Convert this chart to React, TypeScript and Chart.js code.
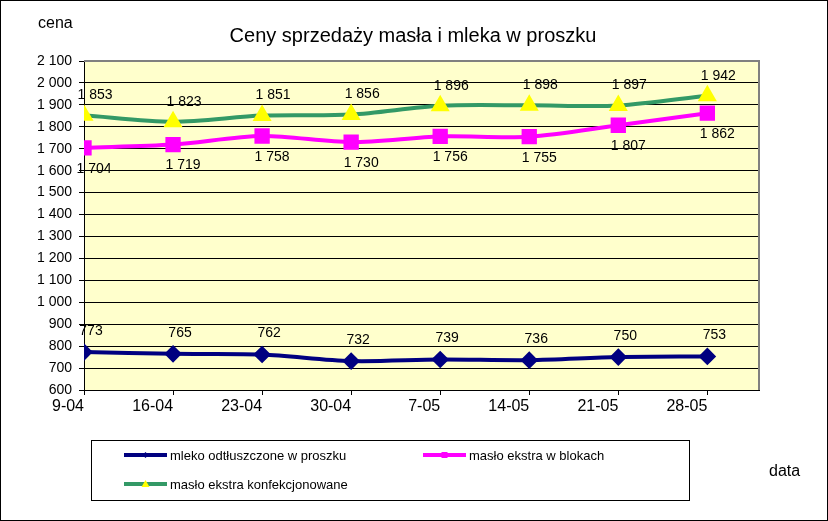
import React, { useEffect, useRef } from "react";
import { Chart, registerables } from "chart.js";

Chart.register(...registerables);

const categories = ["9-04", "16-04", "23-04", "30-04", "7-05", "14-05", "21-05", "28-05"];
const mlekoOdtluszczone = [773, 765, 762, 732, 739, 736, 750, 753];
const masloBloki = [1704, 1719, 1758, 1730, 1756, 1755, 1807, 1862];
const masloKonfekcjonowane = [1853, 1823, 1851, 1856, 1896, 1898, 1897, 1942];
const seriesNames = [
  "mleko odtłuszczone w proszku",
  "masło ekstra w blokach",
  "masło ekstra konfekcjonowane",
];
const titleText = "Ceny sprzedaży masła i mleka w proszku";
const yAxisTitle = "cena";
const xAxisTitle = "data";

const FONT = "'Liberation Sans', Arial, sans-serif";

const fmt = (v: number) => {
  if (v >= 1000) {
    const t = Math.floor(v / 1000);
    const r = String(Math.round(v % 1000)).padStart(3, "0");
    return `${t} ${r}`;
  }
  return String(v);
};

const toPoints = (arr: number[]) => arr.map((v, i) => ({ x: i, y: v }));

// per-series label offset (dx, dy) relative to the point
const labelOffsets = [
  { dx: 7, dy: -21 },
  { dx: 10, dy: 21 },
  { dx: 11, dy: -20 },
];

const decorPlugin = {
  id: "decor",
  beforeDraw(chart: any) {
    const { ctx, chartArea: a, width, height } = chart;
    ctx.save();
    ctx.fillStyle = "#ffffff";
    ctx.fillRect(0, 0, width, height);
    ctx.fillStyle = "#FFFFCC";
    ctx.fillRect(a.left, a.top, a.right - a.left, a.bottom - a.top);
    ctx.restore();
  },
  beforeDatasetsDraw(chart: any) {
    const { ctx, chartArea: a } = chart;
    ctx.save();
    ctx.strokeStyle = "#808080";
    ctx.lineWidth = 2;
    ctx.beginPath();
    ctx.moveTo(a.left, a.top);
    ctx.lineTo(a.right, a.top);
    ctx.lineTo(a.right, a.bottom);
    ctx.stroke();
    ctx.restore();
  },
  afterDatasetsDraw(chart: any) {
    const { ctx } = chart;
    ctx.save();
    ctx.font = `14px ${FONT}`;
    ctx.fillStyle = "#000";
    ctx.textAlign = "center";
    ctx.textBaseline = "middle";
    chart.data.datasets.forEach((ds: any, di: number) => {
      const meta = chart.getDatasetMeta(di);
      const off = labelOffsets[di];
      meta.data.forEach((el: any, i: number) => {
        const v = ds.data[i].y;
        ctx.fillText(fmt(v), el.x + off.dx, el.y + off.dy);
      });
    });
    ctx.restore();
  },
  afterDraw(chart: any) {
    const { ctx, width, height } = chart;
    ctx.save();
    // title
    ctx.fillStyle = "#000";
    ctx.font = `20px ${FONT}`;
    ctx.textAlign = "center";
    ctx.textBaseline = "alphabetic";
    ctx.fillText(titleText, 413, 42);
    // axis titles
    ctx.font = `16px ${FONT}`;
    ctx.textAlign = "left";
    ctx.textBaseline = "middle";
    ctx.fillText(yAxisTitle, 38, 24);
    ctx.fillText(xAxisTitle, 769, 472);

    // legend
    const lx = 91.5, ly = 440.5, lw = 598, lh = 60;
    ctx.fillStyle = "#fff";
    ctx.fillRect(lx, ly, lw, lh);
    ctx.strokeStyle = "#000";
    ctx.lineWidth = 1;
    ctx.strokeRect(lx, ly, lw, lh);
    const slots = [
      { x0: 124, x1: 167, y: 455 },
      { x0: 423, x1: 466, y: 455 },
      { x0: 124, x1: 167, y: 484 },
    ];
    chart.data.datasets.forEach((ds: any, di: number) => {
      const s = slots[di];
      ctx.strokeStyle = ds.borderColor;
      ctx.lineWidth = 4;
      ctx.beginPath();
      ctx.moveTo(s.x0, s.y);
      ctx.lineTo(s.x1, s.y);
      ctx.stroke();
      const cx = (s.x0 + s.x1) / 2;
      ctx.fillStyle = ds.pointBackgroundColor;
      ctx.beginPath();
      if (ds.pointStyle === "rectRot") {
        ctx.moveTo(cx, s.y - 3);
        ctx.lineTo(cx + 3, s.y);
        ctx.lineTo(cx, s.y + 3);
        ctx.lineTo(cx - 3, s.y);
      } else if (ds.pointStyle === "rect") {
        ctx.rect(cx - 3, s.y - 3, 6, 6);
      } else {
        ctx.moveTo(cx, s.y - 4);
        ctx.lineTo(cx + 4, s.y + 3);
        ctx.lineTo(cx - 4, s.y + 3);
      }
      ctx.closePath();
      ctx.fill();
      ctx.fillStyle = "#000";
      ctx.font = `13px ${FONT}`;
      ctx.textAlign = "left";
      ctx.textBaseline = "middle";
      ctx.fillText(ds.label, s.x1 + 3, s.y + 1);
    });

    // outer border
    ctx.strokeStyle = "#000";
    ctx.lineWidth = 1;
    ctx.strokeRect(0.5, 0.5, width - 1, height - 1);
    ctx.restore();
  },
};

export default function App() {
  const ref = useRef<HTMLCanvasElement | null>(null);
  useEffect(() => {
    document.body.style.margin = "0";
    const canvas = ref.current;
    if (!canvas) return;
    const chart = new Chart(canvas, {
      type: "line",
      data: {
        datasets: [
          {
            label: seriesNames[0],
            data: toPoints(mlekoOdtluszczone),
            borderColor: "#000080",
            backgroundColor: "#000080",
            pointBackgroundColor: "#000080",
            pointBorderColor: "#000080",
            pointStyle: "rectRot",
            pointRadius: 6,
            borderWidth: 4,
            tension: 0.3,
          },
          {
            label: seriesNames[1],
            data: toPoints(masloBloki),
            borderColor: "#FF00FF",
            backgroundColor: "#FF00FF",
            pointBackgroundColor: "#FF00FF",
            pointBorderColor: "#FF00FF",
            pointStyle: "rect",
            pointRadius: 8,
            borderWidth: 4,
            tension: 0.3,
          },
          {
            label: seriesNames[2],
            data: toPoints(masloKonfekcjonowane),
            borderColor: "#339966",
            backgroundColor: "#339966",
            pointBackgroundColor: "#FFFF00",
            pointBorderColor: "#FFFF00",
            pointStyle: "triangle",
            pointRadius: 7,
            borderWidth: 4,
            tension: 0.3,
          },
        ] as any,
      },
      options: {
        responsive: false,
        animation: false,
        devicePixelRatio: 1,
        layout: { padding: { left: 0, right: 69, top: 61, bottom: 101 } },
        plugins: {
          legend: { display: false },
          title: { display: false },
          tooltip: { enabled: false },
        },
        scales: {
          x: {
            type: "linear",
            min: 0,
            max: 7.58,
            afterFit: (s: any) => {
              s.height = 30;
            },
            grid: {
              drawOnChartArea: false,
              drawTicks: true,
              tickLength: 5,
              color: "#000",
            },
            border: { color: "#000", width: 1 },
            ticks: {
              stepSize: 1,
              includeBounds: false,
              autoSkip: false,
              maxRotation: 0,
              align: "end",
              padding: 2,
              color: "#000",
              font: { size: 16, family: FONT },
              callback: (v: any) => categories[Math.round(Number(v))] ?? "",
            },
          },
          y: {
            type: "linear",
            min: 600,
            max: 2100,
            afterFit: (s: any) => {
              s.width = 84;
            },
            grid: { color: "#000", lineWidth: 1, tickLength: 5 },
            border: { color: "#000", width: 1 },
            ticks: {
              stepSize: 100,
              padding: 7,
              color: "#000",
              font: { size: 14, family: FONT },
              callback: (v: any) => fmt(Number(v)),
            },
          },
        },
      } as any,
      plugins: [decorPlugin],
    });
    return () => chart.destroy();
  }, []);
  return <canvas ref={ref} width={828} height={521} style={{ display: "block" }} />;
}
